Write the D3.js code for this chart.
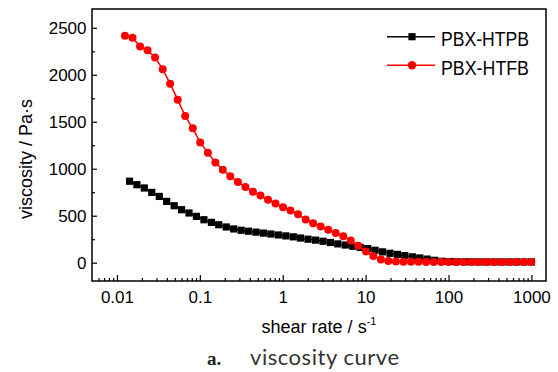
<!DOCTYPE html>
<html>
<head>
<meta charset="utf-8">
<script src="https://cdn.jsdelivr.net/npm/d3@7"></script>
<style>
	body { margin: 0; background: #ffffff; }
	svg { display: block; font-family: "Liberation Sans", Arial, sans-serif; }
</style>
</head>
<body>
<svg id="chart" width="558" height="372"></svg>
<script>
// Shear rate (s^-1) and viscosity (Pa·s)
const htpbShear = [0.0142, 0.0174, 0.0214, 0.0263, 0.0324, 0.0398, 0.0490, 0.0602, 0.0740, 0.0910,
	0.112, 0.138, 0.169, 0.208, 0.256, 0.315, 0.387, 0.476, 0.585, 0.719,
	0.885, 1.09, 1.34, 1.64, 2.02, 2.49, 3.06, 3.76, 4.62, 5.69,
	7.00, 8.61, 10.6, 13.0, 16.0, 19.7, 24.2, 29.7, 36.6, 45.0,
	55.3, 68.1, 83.6, 103, 126, 156, 191, 235, 289, 356,
	438, 538, 661, 813, 1000];
const htpbViscosity = [867, 830, 795, 748, 705, 652, 606, 564, 529, 493,
	457, 429, 404, 380, 359, 345, 335, 325, 315, 305,
	295, 285, 275, 262, 250, 240, 228, 215, 200, 188,
	175, 162, 150, 132, 115, 100, 88, 75, 62, 50,
	38, 25, 15, 12, 10, 9, 9, 8, 8, 8,
	8, 8, 8, 8, 8];

const htfbShear = [0.0125, 0.0154, 0.0190, 0.0234, 0.0288, 0.0356, 0.0438, 0.0540, 0.0666, 0.0821,
	0.101, 0.125, 0.154, 0.189, 0.233, 0.288, 0.355, 0.437, 0.539, 0.664,
	0.818, 1.01, 1.24, 1.53, 1.89, 2.33, 2.87, 3.54, 4.36, 5.37,
	6.62, 8.16, 10.1, 12.4, 15.3, 18.8, 23.2, 28.6, 35.3, 43.5,
	53.6, 66.1, 81.5, 100, 124, 152, 188, 232, 285, 352,
	434, 535, 659, 811, 1000];
const htfbViscosity = [2415, 2395, 2300, 2260, 2185, 2060, 1905, 1735, 1560, 1430,
	1280, 1170, 1065, 990, 920, 860, 805, 755, 715, 670,
	630, 590, 555, 515, 460, 420, 385, 350, 315, 280,
	235, 180, 120, 70, 35, 18, 12, 10, 9, 9,
	8, 8, 8, 8, 8, 8, 8, 8, 8, 8,
	8, 8, 8, 8, 8];

const seriesNames = ["PBX-HTPB", "PBX-HTFB"];
const seriesColors = ["#000000", "#ff0000"];

const xTickValues = [0.01, 0.1, 1, 10, 100, 1000];
const xTickLabels = ["0.01", "0.1", "1", "10", "100", "1000"];
const yTickValues = [0, 500, 1000, 1500, 2000, 2500];

function whenDocumentLoaded(action) {
	if (document.readyState === "loading") {
		document.addEventListener("DOMContentLoaded", action);
	} else {
		action();
	}
}

function drawChart() {
	const svg = d3.select("#chart");
	const margin = { left: 92, right: 546, top: 9, bottom: 281 };
	const tickFont = "Liberation Sans, Arial, sans-serif";

	const x = d3.scaleLog().domain([0.005, 1500]).range([margin.left, margin.right]);
	const y = d3.scaleLinear().domain([-195, 2700]).range([margin.bottom, margin.top]);

	// minor ticks: 2..9 in every decade, and every 250 on y
	const xMinor = [];
	for (let e = -3; e <= 3; e++) {
		for (let m = 2; m <= 9; m++) {
			const v = m * Math.pow(10, e);
			if (v > 0.005 && v < 1500) xMinor.push(v);
		}
	}
	const yMinor = d3.range(250, 2700, 500);

	svg.append("g")
		.attr("transform", `translate(0,${margin.bottom})`)
		.call(d3.axisBottom(x).tickValues(xMinor).tickSize(-3).tickFormat(""))
		.call((g) => g.select(".domain").remove())
		.selectAll("line").attr("stroke-width", 1.2);

	svg.append("g")
		.attr("transform", `translate(0,${margin.bottom})`)
		.call(d3.axisBottom(x).tickValues(xTickValues).tickSize(-6).tickPadding(10)
			.tickFormat((d, i) => xTickLabels[i]))
		.call((g) => g.select(".domain").remove())
		.call((g) => g.selectAll("line").attr("stroke-width", 1.2))
		.call((g) => g.selectAll("text").attr("font-size", 17).attr("fill", "#000")
			.attr("font-family", tickFont));

	svg.append("g")
		.attr("transform", `translate(${margin.left},0)`)
		.call(d3.axisLeft(y).tickValues(yMinor).tickSize(-3).tickFormat(""))
		.call((g) => g.select(".domain").remove())
		.selectAll("line").attr("stroke-width", 1.2);

	svg.append("g")
		.attr("transform", `translate(${margin.left},0)`)
		.call(d3.axisLeft(y).tickValues(yTickValues).tickSize(-5).tickPadding(5.5)
			.tickFormat(d3.format("d")))
		.call((g) => g.select(".domain").remove())
		.call((g) => g.selectAll("line").attr("stroke-width", 1.2))
		.call((g) => g.selectAll("text").attr("font-size", 17).attr("fill", "#000")
			.attr("font-family", tickFont));

	// frame
	svg.append("rect")
		.attr("x", margin.left)
		.attr("y", margin.top)
		.attr("width", margin.right - margin.left)
		.attr("height", margin.bottom - margin.top)
		.attr("fill", "none")
		.attr("stroke", "#000")
		.attr("stroke-width", 1.5);

	const series = [
		d3.zip(htpbShear, htpbViscosity),
		d3.zip(htfbShear, htfbViscosity),
	];

	const line = d3.line()
		.x((d) => x(d[0]))
		.y((d) => y(d[1]));

	series.forEach((data, k) => {
		const g = svg.append("g");
		g.append("path")
			.datum(data)
			.attr("fill", "none")
			.attr("stroke", seriesColors[k])
			.attr("stroke-width", 1.5)
			.attr("d", line);
		if (k === 0) {
			g.selectAll("rect")
				.data(data)
				.join("rect")
				.attr("x", (d) => x(d[0]) - 3.6)
				.attr("y", (d) => y(d[1]) - 3.6)
				.attr("width", 7.2)
				.attr("height", 7.2)
				.attr("fill", seriesColors[k]);
		} else {
			g.selectAll("circle")
				.data(data)
				.join("circle")
				.attr("cx", (d) => x(d[0]))
				.attr("cy", (d) => y(d[1]))
				.attr("r", 4)
				.attr("fill", seriesColors[k]);
		}
	});

	// legend
	const legend = svg.append("g");
	seriesNames.forEach((name, k) => {
		const ly = 36.7 + k * 28.5;
		legend.append("line")
			.attr("x1", 387).attr("x2", 435)
			.attr("y1", ly).attr("y2", ly)
			.attr("stroke", seriesColors[k])
			.attr("stroke-width", 1.5);
		if (k === 0) {
			legend.append("rect")
				.attr("x", 412 - 3.6).attr("y", ly - 3.6)
				.attr("width", 7.2).attr("height", 7.2)
				.attr("fill", seriesColors[k]);
		} else {
			legend.append("circle")
				.attr("cx", 412).attr("cy", ly)
				.attr("r", 4.2)
				.attr("fill", seriesColors[k]);
		}
		legend.append("text")
			.attr("x", 441)
			.attr("y", ly + 9.5)
			.attr("font-size", 20)
			.attr("textLength", 88)
			.attr("lengthAdjust", "spacingAndGlyphs")
			.text(name);
	});

	// axis titles
	svg.append("text")
		.attr("transform", "translate(32,159) rotate(-90)")
		.attr("text-anchor", "middle")
		.attr("font-size", 18)
		.text("viscosity / Pa·s");

	const xTitle = svg.append("text")
		.attr("x", 319)
		.attr("y", 333)
		.attr("text-anchor", "middle")
		.attr("font-size", 18);
	xTitle.append("tspan").text("shear rate / s");
	xTitle.append("tspan").attr("font-size", 11).attr("dy", -8).text("-1");

	// caption
	svg.append("text")
		.attr("x", 207)
		.attr("y", 365)
		.attr("font-family", "Liberation Serif, DejaVu Serif, serif")
		.attr("font-weight", "bold")
		.attr("font-size", 19)
		.attr("fill", "#222")
		.text("a.");
	svg.append("text")
		.attr("x", 250)
		.attr("y", 365)
		.attr("font-family", "Lato, Open Sans, sans-serif")
		.attr("font-size", 22)
		.attr("fill", "#333")
		.attr("textLength", 149)
		.attr("lengthAdjust", "spacing")
		.text("viscosity curve");
}

whenDocumentLoaded(drawChart);
</script>
</body>
</html>
